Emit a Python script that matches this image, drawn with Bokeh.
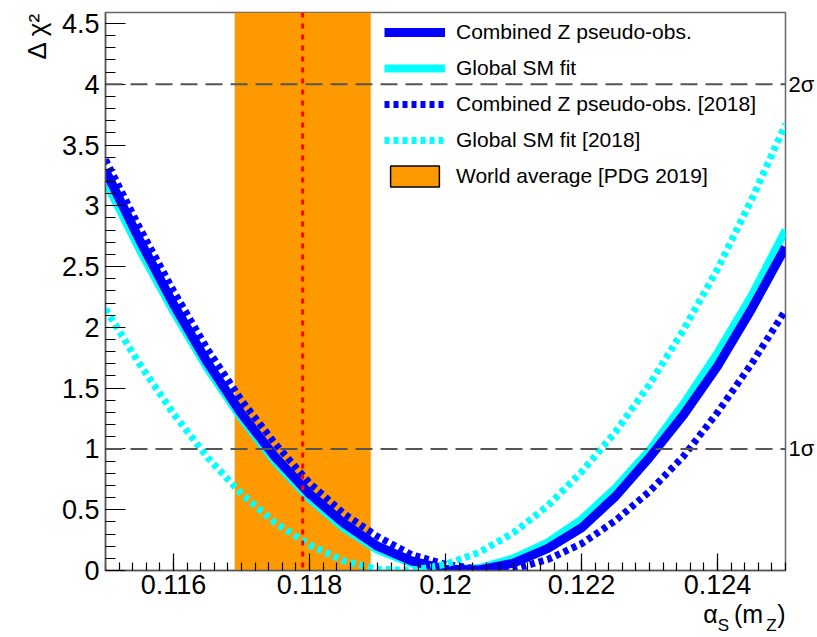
import numpy as np
from bokeh.plotting import figure
from bokeh.models import (Range1d, FixedTicker, Legend, LegendItem, LinearAxis,
                          Span, Title)
from bokeh.embed import file_html
from bokeh.resources import INLINE

# ---------------- data ----------------
alpha_s = [0.1150, 0.1155, 0.1160, 0.1165, 0.1170, 0.1175, 0.1180, 0.1185,
           0.1190, 0.1195, 0.1200, 0.1205, 0.1210, 0.1215, 0.1220, 0.1225,
           0.1230, 0.1235, 0.1240, 0.1245, 0.1250]
combined_z = [3.29, 2.72, 2.19, 1.71, 1.29, 0.93, 0.63, 0.39, 0.20, 0.08,
              0.01, 0.005, 0.06, 0.18, 0.35, 0.61, 0.93, 1.28, 1.68, 2.15, 2.66]
global_sm = [3.20, 2.64, 2.13, 1.66, 1.25, 0.89, 0.59, 0.35, 0.17, 0.06,
             0.01, 0.02, 0.10, 0.23, 0.42, 0.68, 0.99, 1.37, 1.79, 2.26, 2.80]
combined_z_2018 = [3.38, 2.82, 2.30, 1.82, 1.40, 1.04, 0.72, 0.47, 0.28, 0.13,
                   0.05, 0.01, 0.01, 0.09, 0.22, 0.41, 0.65, 0.94, 1.30, 1.70, 2.14]
global_sm_2018 = [2.15, 1.70, 1.29, 0.93, 0.63, 0.39, 0.21, 0.08, 0.01, 0.0,
                  0.05, 0.15, 0.31, 0.53, 0.81, 1.14, 1.53, 1.98, 2.48, 3.05, 3.67]
pdg_central = 0.1179
pdg_error = 0.0010
sigma_levels = [1, 4]
sigma_labels = ["1σ", "2σ"]
legend_labels = ["Combined Z pseudo-obs.", "Global SM fit",
                 "Combined Z pseudo-obs. [2018]", "Global SM fit [2018]",
                 "World average [PDG 2019]"]
x_ticks = [0.116, 0.118, 0.120, 0.122, 0.124]
x_tick_labels = ["0.116", "0.118", "0.12", "0.122", "0.124"]
y_ticks = [0.0, 0.5, 1.0, 1.5, 2.0, 2.5, 3.0, 3.5, 4.0, 4.5]
y_tick_labels = ["0", "0.5", "1", "1.5", "2", "2.5", "3", "3.5", "4", "4.5"]
y_title = "Δ χ²"
x_title_main = ["α", "(m", ")"]
x_title_sub = ["S", "Z"]

# ---------------- layout ----------------
X0, X1 = 0.115, 0.125
Y0, Y1 = 0.0, 4.59
FL, FR, FT, FB = 105, 785, 12, 571   # frame edges in px
W, H = 817, 637


def px_x(px):
    return X0 + (px - FL) * (X1 - X0) / (FR - FL)


FONT = "Liberation Sans"
BLUE = "#0000ff"
CYAN = "#00ffff"
ORANGE = "#ff9900"

p = figure(width=W, height=H, output_backend="svg", toolbar_location=None,
           x_range=Range1d(X0, X1), y_range=Range1d(Y0, Y1),
           min_border_left=FL, min_border_right=W - FR,
           min_border_top=FT, min_border_bottom=H - FB)
p.grid.visible = False
p.outline_line_color = "#666666"
p.outline_line_width = 1.5
p.background_fill_color = "white"
p.border_fill_color = "white"

# world-average band
band = p.quad(left=[pdg_central - pdg_error], right=[pdg_central + pdg_error],
              bottom=[Y0], top=[Y1], fill_color=ORANGE, line_color=None)
# legend proxy (zero height, outside the visible range)
band_legend = p.quad(left=[pdg_central - pdg_error], right=[pdg_central + pdg_error],
                     bottom=[Y0 - 1], top=[Y0 - 1], fill_color=ORANGE,
                     line_color="black", line_width=1.5)

# curves
r_gs = p.line(alpha_s, global_sm, line_color=CYAN, line_width=8, line_join="round")
r_cz = p.line(alpha_s, combined_z, line_color=BLUE, line_width=9, line_join="round")
r_cz18 = p.line(alpha_s, combined_z_2018, line_color=BLUE, line_width=7,
                line_dash="5 4")
r_gs18 = p.line(alpha_s, global_sm_2018, line_color=CYAN, line_width=7,
                line_dash="5 4")

# reference lines
p.add_layout(Span(location=pdg_central, dimension="height", line_color="red",
                  line_width=3, line_dash="5 6"))
for lev in sigma_levels:
    p.add_layout(Span(location=lev, dimension="width", line_color="#555555",
                      line_width=2, line_dash="17 8"))

# main axes
xax = p.xaxis[0]
yax = p.yaxis[0]
for ax in (xax, yax):
    ax.axis_line_color = "#555555"
    ax.axis_line_width = 1.5
    ax.major_tick_line_color = "black"
    ax.minor_tick_line_color = "black"
    ax.major_tick_line_width = 1.2
    ax.minor_tick_line_width = 1.2
    ax.major_tick_out = 0
    ax.minor_tick_out = 0
    ax.major_label_text_font = FONT
    ax.major_label_text_font_size = "27px"
    ax.major_label_text_color = "black"

xax.ticker = FixedTicker(ticks=x_ticks,
                         minor_ticks=[X0 + i * 0.0002 for i in range(51)])
xax.major_label_overrides = dict(zip(x_ticks, x_tick_labels))
xax.major_tick_in = 17
xax.minor_tick_in = 8
xax.major_label_standoff = 4

yax.ticker = FixedTicker(ticks=y_ticks,
                         minor_ticks=[i * 0.1 for i in range(46)])
yax.major_label_overrides = dict(zip(y_ticks, y_tick_labels))
yax.major_tick_in = 20
yax.minor_tick_in = 10
yax.major_label_standoff = 6


def text_axis(positions, labels, size, standoff, side):
    ax = LinearAxis(ticker=FixedTicker(ticks=positions, minor_ticks=[]),
                    major_label_overrides=dict(zip(positions, labels)),
                    axis_line_color=None, major_tick_line_color=None,
                    minor_tick_line_color=None, major_tick_in=0,
                    major_tick_out=0, minor_tick_in=0, minor_tick_out=0,
                    major_label_standoff=standoff,
                    major_label_text_font=FONT,
                    major_label_text_font_size=size,
                    major_label_text_color="black")
    p.add_layout(ax, side)
    return ax


# sigma labels on the right
text_axis(sigma_levels, sigma_labels, "22px", 3, "right")

# x-axis title alpha_S(m_Z), built from pieces
text_axis([px_x(710), px_x(748), px_x(781)], x_title_main, "25px", 3, "below")
text_axis([px_x(723), px_x(771)], x_title_sub, "17px", -15, "below")

# y-axis title
p.add_layout(Title(text=y_title, align="right", text_font=FONT,
                   text_font_size="26px", text_font_style="normal",
                   text_color="black", standoff=14, offset=0), "left")

# legend
items = [LegendItem(label=legend_labels[0], renderers=[r_cz]),
         LegendItem(label=legend_labels[1], renderers=[r_gs]),
         LegendItem(label=legend_labels[2], renderers=[r_cz18]),
         LegendItem(label=legend_labels[3], renderers=[r_gs18]),
         LegendItem(label=legend_labels[4], renderers=[band_legend])]
legend = Legend(items=items, location=(279, 381), glyph_width=61,
                glyph_height=26, label_height=26, spacing=10, padding=4,
                margin=0, label_standoff=11, label_text_font=FONT,
                label_text_font_size="21px", label_text_color="black",
                background_fill_alpha=0, border_line_color=None)
p.add_layout(legend)

open("out.html", "w").write(file_html(p, INLINE))
